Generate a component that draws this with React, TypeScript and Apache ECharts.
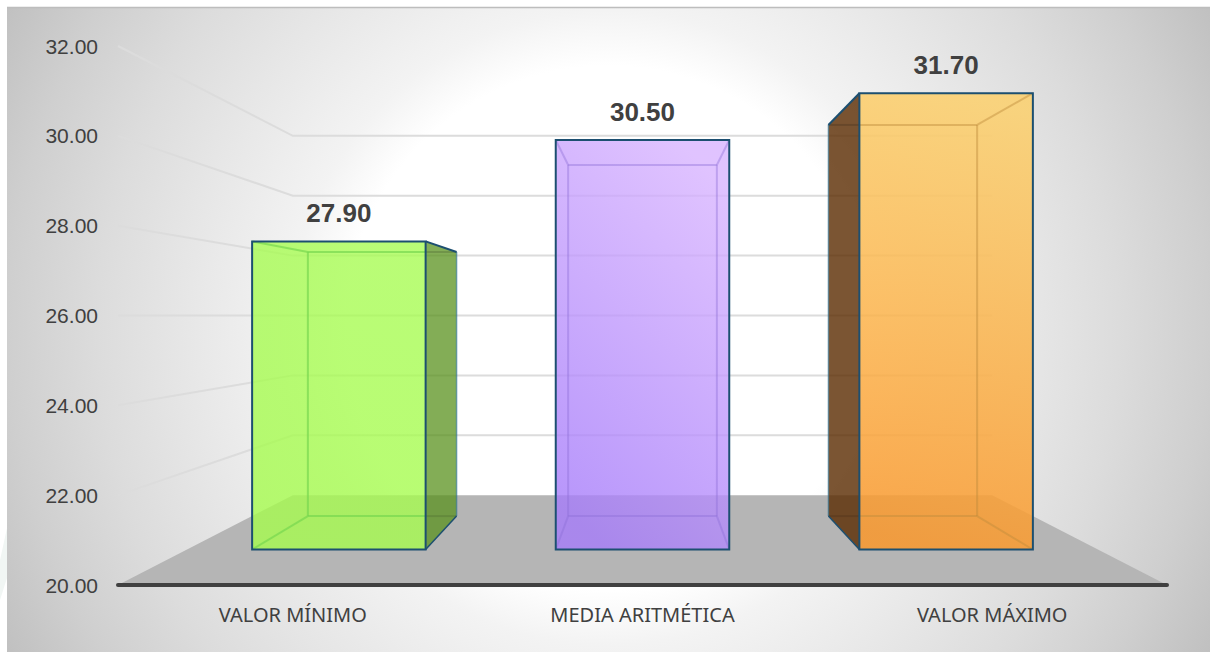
import React, { useEffect, useRef } from "react";
import * as echarts from "echarts";

const categories = ["VALOR MÍNIMO", "MEDIA ARITMÉTICA", "VALOR MÁXIMO"];
const values = [27.9, 30.5, 31.7];
const wallTicks = [22, 24, 26, 28, 30, 32];

const faceTop = ["rgba(168,252,84,0.8)", "rgba(216,180,255,0.8)", "rgba(252,208,108,0.85)"];
const faceBottom = ["rgba(166,252,78,0.8)", "rgba(166,124,250,0.8)", "rgba(250,152,44,0.85)"];
const faceTilt = [0.1, 0.2, 0.05];
const sideFill = ["rgba(90,145,30,0.75)", "rgba(90,60,160,0.75)", "rgba(90,42,0,0.8)"];
const innerEdge = ["rgba(120,215,80,0.7)", "rgba(140,110,215,0.4)", "rgba(190,140,60,0.45)"];
const edgeColor = "#1c4f70";
const textColor = "#404040";

// One-point perspective: depth 0 is the plane of the axes, depth 1 the back wall.
const VANISH_Y_VALUE = 26;
const SHRINK = 1 / 3;
const BAR_NEAR = 0.395;
const BAR_FAR = 0.767;
const BAR_RATIO = 1 / 1.75;

function projector(api: any, params: any) {
  const sys = params.coordSys;
  const vx = sys.x + sys.width / 2;
  const vy = api.coord([0, VANISH_Y_VALUE])[1];
  return (x: number, y: number, depth: number): number[] => {
    const s = 1 - depth * SHRINK;
    return [vx + (x - vx) * s, vy + (y - vy) * s];
  };
}

function renderWall(params: any, api: any) {
  const project = projector(api, params);
  const sys = params.coordSys;
  const left = sys.x;
  const right = sys.x + sys.width;
  const y = api.coord([0, api.value(0)])[1];
  return {
    type: "polyline",
    shape: { points: [[left, y], project(left, y, 1), project(right, y, 1)] },
    style: { fill: "none", stroke: "#dcdcdc", lineWidth: 2 },
  };
}

function renderFloor(params: any, api: any) {
  const project = projector(api, params);
  const sys = params.coordSys;
  const left = sys.x;
  const right = sys.x + sys.width;
  const y = api.coord([0, api.value(0)])[1];
  return {
    type: "polygon",
    shape: { points: [[left, y], [right, y], project(right, y, 1), project(left, y, 1)] },
    style: { fill: "#b5b5b5" },
  };
}

function edge(a: number[], b: number[], stroke: string, lineWidth: number) {
  return {
    type: "line",
    shape: { x1: a[0], y1: a[1], x2: b[0], y2: b[1] },
    style: { stroke, lineWidth },
  };
}

function renderBar(params: any, api: any) {
  const project = projector(api, params);
  const i = api.value(0);
  const value = api.value(1);
  const [cx, topY] = api.coord([i, value]);
  const baseY = api.coord([i, 20])[1];
  const half = (api.size([1, 0])[0] * BAR_RATIO) / 2;
  const xl = cx - half;
  const xr = cx + half;

  const nTL = project(xl, topY, BAR_NEAR);
  const nTR = project(xr, topY, BAR_NEAR);
  const nBL = project(xl, baseY, BAR_NEAR);
  const nBR = project(xr, baseY, BAR_NEAR);
  const fTL = project(xl, topY, BAR_FAR);
  const fTR = project(xr, topY, BAR_FAR);
  const fBL = project(xl, baseY, BAR_FAR);
  const fBR = project(xr, baseY, BAR_FAR);

  const rightSide = fTR[0] > nTR[0] + 1;
  const leftSide = fTL[0] < nTL[0] - 1;

  const children: any[] = [];
  const sidePanel = (nT: number[], fT: number[], fB: number[], nB: number[]) => {
    children.push({
      type: "polygon",
      shape: { points: [nT, fT, fB, nB] },
      style: { fill: sideFill[i] },
    });
    // Far-face edges show faintly through the dark panel.
    children.push(edge([nT[0], fT[1]], fT, "rgba(0,0,0,0.14)", 2));
    children.push(edge([nB[0], fB[1]], fB, "rgba(0,0,0,0.1)", 2));
    children.push(edge(fT, fB, "rgba(45,115,150,0.6)", 1.5));
    children.push(edge(nT, fT, edgeColor, 2));
    children.push(edge(fB, nB, edgeColor, 1.5));
  };
  if (rightSide) sidePanel(nTR, fTR, fBR, nBR);
  if (leftSide) sidePanel(nTL, fTL, fBL, nBL);

  const tilt = faceTilt[i];
  children.push({
    type: "polygon",
    shape: { points: [nTL, nTR, nBR, nBL] },
    style: {
      fill: new echarts.graphic.LinearGradient(0.5 + tilt, 0, 0.5 - tilt, 1, [
        { offset: 0, color: faceTop[i] },
        { offset: 1, color: faceBottom[i] },
      ]),
    },
  });

  // Far-face edges and corner diagonals, kept inside the glass front.
  const innerL = Math.max(fTL[0], nTL[0]);
  const innerR = Math.min(fTR[0], nTR[0]);
  const inner = [
    [nTL, leftSide ? nTL : fTL],
    [nTR, rightSide ? nTR : fTR],
    [nBL, leftSide ? nBL : fBL],
    [nBR, rightSide ? nBR : fBR],
    [[innerL, fTL[1]], [innerR, fTR[1]]],
    [[innerL, fBL[1]], [innerR, fBR[1]]],
  ];
  if (!leftSide) inner.push([fTL, fBL]);
  if (!rightSide) inner.push([fTR, fBR]);
  inner.forEach(([a, b]) => children.push(edge(a, b, innerEdge[i], 2)));

  children.push({
    type: "polygon",
    shape: { points: [nTL, nTR, nBR, nBL] },
    style: { fill: "none", stroke: edgeColor, lineWidth: 2, lineJoin: "miter" },
  });

  children.push({
    type: "text",
    style: {
      x: (nTL[0] + nTR[0]) / 2,
      y: nTL[1] - 28,
      text: value.toFixed(2),
      fill: textColor,
      font: 'bold 26px "Liberation Sans", Arial, sans-serif',
      align: "center",
      verticalAlign: "middle",
    },
  });

  return { type: "group", children };
}

export default function App() {
  const ref = useRef<HTMLDivElement>(null);

  useEffect(() => {
    const chart = echarts.init(ref.current!, null, { renderer: "svg" });
    chart.setOption({
      animation: false,
      graphic: [
        {
          type: "polygon",
          z: -11,
          shape: { points: [[7, 528], [7, 578], [0, 600], [0, 560]] },
          style: { fill: "#f1f6f4" },
        },
        {
          type: "rect",
          z: -10,
          shape: { x: 7, y: 7, width: 1203, height: 645 },
          style: {
            fill: new echarts.graphic.RadialGradient(608, 328, 690, [
              { offset: 0, color: "#ffffff" },
              { offset: 0.38, color: "#ffffff" },
              { offset: 0.46, color: "#f3f3f3" },
              { offset: 0.62, color: "#e6e6e6" },
              { offset: 0.74, color: "#dcdcdc" },
              { offset: 0.87, color: "#cfcfcf" },
              { offset: 1, color: "#bfbfbf" },
            ], true),
          },
        },
        {
          type: "line",
          z: -9,
          shape: { x1: 7, y1: 7.5, x2: 1210, y2: 7.5 },
          style: { stroke: "#bdbdbd", lineWidth: 1.5 },
        },
      ],
      grid: { left: 118, right: 43, top: 46, bottom: 67 },
      xAxis: {
        type: "category",
        data: categories,
        z: 5,
        axisTick: { show: false },
        axisLine: { lineStyle: { color: "#404040", width: 4, cap: "round" } },
        axisLabel: {
          color: textColor,
          fontFamily: '"Noto Sans", sans-serif',
          fontSize: 20,
          margin: 19,
        },
      },
      yAxis: {
        type: "value",
        min: 20,
        max: 32,
        interval: 2,
        axisLine: { show: false },
        axisTick: { show: false },
        splitLine: { show: false },
        axisLabel: {
          color: textColor,
          fontFamily: '"Liberation Sans", Arial, sans-serif',
          fontSize: 21,
          margin: 20,
          formatter: (v: number) => v.toFixed(2),
        },
      },
      series: [
        {
          type: "custom",
          z: 1,
          data: wallTicks.map((v) => [v]),
          renderItem: renderWall,
          silent: true,
        },
        {
          type: "custom",
          z: 2,
          data: [[20]],
          renderItem: renderFloor,
          silent: true,
        },
        {
          type: "custom",
          z: 3,
          data: values.map((v, i) => [i, v]),
          renderItem: renderBar,
          silent: true,
        },
      ],
    });
    return () => chart.dispose();
  }, []);

  return (
    <div
      ref={ref}
      style={{ position: "fixed", left: 0, top: 0, width: 1210, height: 652, background: "#ffffff" }}
    />
  );
}
